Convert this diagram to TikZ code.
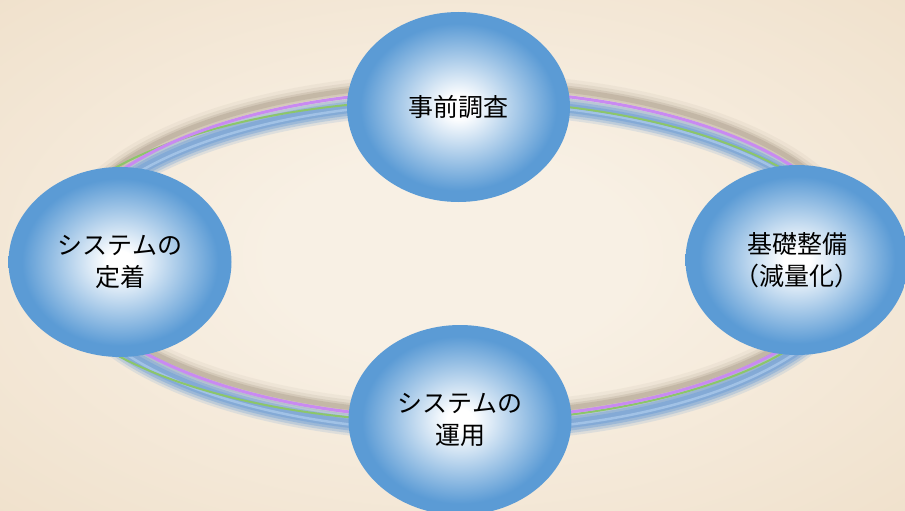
\documentclass[tikz,border=0pt]{standalone}
\usepackage{fontspec}
\newfontfamily\jp{Noto Sans CJK JP}
\usetikzlibrary{shapes.geometric}
\definecolor{bblue}{HTML}{5B9BD5}
\definecolor{paperin}{HTML}{F8F0E4}
\definecolor{paperout}{HTML}{F0E1CC}
\definecolor{ringpurple}{HTML}{C98AF2}
\definecolor{ringgreen}{HTML}{8CC66A}
\definecolor{ringblue}{HTML}{74A2D6}
\definecolor{ringlight}{HTML}{A9C8EA}
\definecolor{ringshadow}{HTML}{6B5A45}
\pgfdeclareradialshading{bub}{\pgfpoint{0bp}{0bp}}{color(0bp)=(white); color(3bp)=(white); color(22bp)=(bblue); color(25bp)=(bblue); color(50bp)=(bblue)}
\pgfdeclareradialshading{paper}{\pgfpoint{0bp}{0bp}}{color(0bp)=(paperin); color(10bp)=(paperin); color(36bp)=(paperout); color(50bp)=(paperout)}
\tikzset{
  bubble/.style={ellipse, minimum width=223pt, minimum height=190pt, inner sep=0pt,
    shading=bub, align=center, text=black,
    font=\jp\fontsize{25}{32}\selectfont},
}
\begin{document}
\begin{tikzpicture}[x=1pt,y=-1pt]
\useasboundingbox (0,0) rectangle (905,511);
\clip (0,0) rectangle (905,511);
\shade[shading=paper] (0,0) rectangle (905,511);
% shadow of the ring
\foreach \w/\o in {22/0.05,15/0.08,9/0.12,5/0.15}{
  \draw[ringshadow, line width=\w pt, opacity=\o] (460,249) ellipse [x radius=395pt, y radius=165pt];
}
% blue glow band
\foreach \w/\o in {24/0.18,19/0.3,14/0.45,9/0.6}{
  \draw[ringblue, line width=\w pt, opacity=\o] (460,266) ellipse [x radius=394pt, y radius=164pt];
}
\draw[ringlight, line width=2.5pt, opacity=0.8] (460,267) ellipse [x radius=394pt, y radius=164pt];
\draw[ringgreen, line width=2pt] (448,261) ellipse [x radius=408pt, y radius=161pt];
\draw[ringpurple, line width=3pt] (460,254.5) ellipse [x radius=394pt, y radius=164pt];
% nodes
\node[bubble] (survey) at (458.5,107) {事前調査};
\node[bubble] (base) at (797,260) {基礎整備\\（減量化）};
\node[bubble] (oper) at (460,420) {システムの\\運用};
\node[bubble] (fix) at (120,262) {システムの\\定着};
\end{tikzpicture}
\end{document}
